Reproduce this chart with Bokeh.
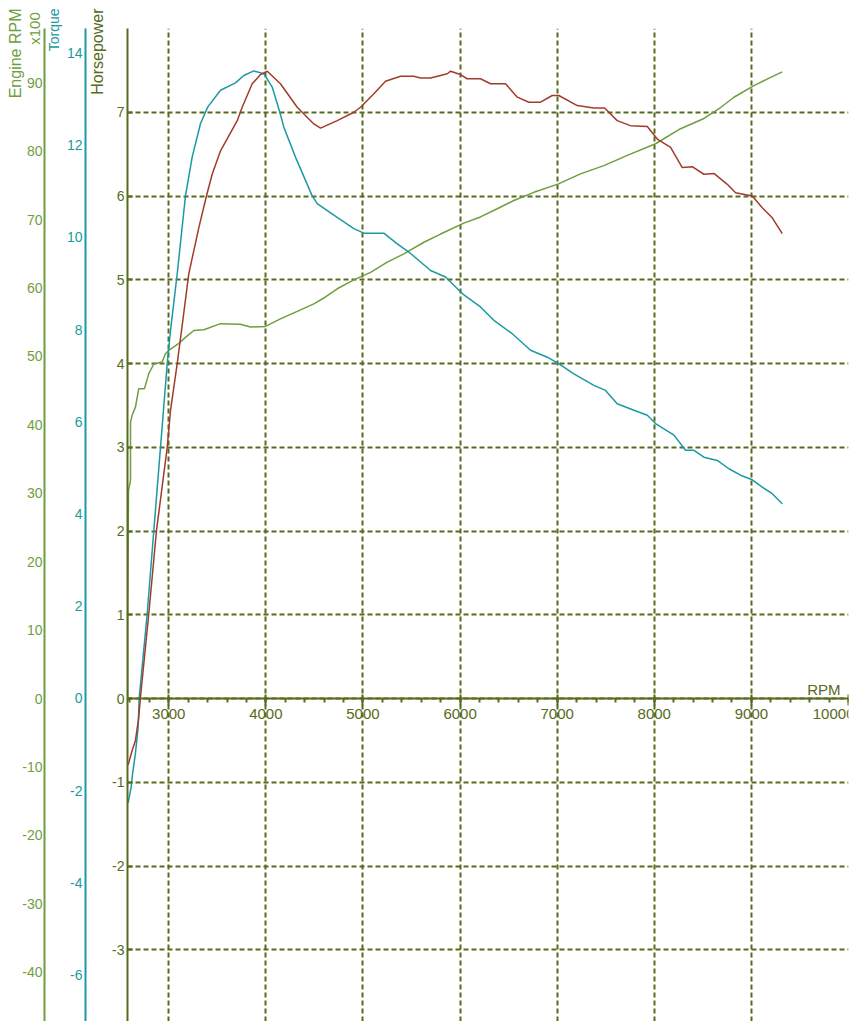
from bokeh.plotting import figure
from bokeh.models import Range1d, LinearAxis, Label, Title, FixedTicker, SingleIntervalTicker
from bokeh.embed import file_html
from bokeh.resources import INLINE

# ---------------- data ----------------
rpm_hp = [2582, 2623, 2657, 2691, 2708, 2794, 2873, 2984, 3018, 3087, 3131, 3206, 3309, 3388, 3447,
          3533, 3705, 3756, 3859, 3945, 4014, 4150, 4323, 4494, 4563, 4735, 4906, 4975, 5112, 5232,
          5387, 5524, 5592, 5696, 5868, 5902, 6004, 6073, 6210, 6313, 6468, 6589, 6708, 6829, 6949,
          7017, 7207, 7378, 7488, 7618, 7754, 7928, 8031, 8168, 8288, 8391, 8511, 8614, 8752, 8837,
          9009, 9112, 9215, 9318]
horsepower = [-0.79, -0.62, -0.50, -0.22, 0.01, 1.01, 2.00, 3.00, 3.44, 4.00, 4.39, 5.07, 5.62, 6.00, 6.26,
              6.54, 6.90, 7.06, 7.34, 7.45, 7.49, 7.34, 7.06, 6.86, 6.81, 6.90, 7.00, 7.06, 7.22, 7.37,
              7.43, 7.43, 7.41, 7.41, 7.46, 7.49, 7.45, 7.40, 7.40, 7.34, 7.34, 7.18, 7.12, 7.12, 7.20,
              7.20, 7.08, 7.05, 7.05, 6.90, 6.84, 6.83, 6.68, 6.58, 6.34, 6.35, 6.26, 6.27, 6.14, 6.04,
              6.00, 5.86, 5.74, 5.55]

rpm_tq = [2582, 2613, 2623, 2657, 2685, 2695, 2778, 2846, 2915, 2984, 3018, 3087, 3172, 3241, 3327,
          3402, 3533, 3687, 3773, 3876, 3979, 4065, 4143, 4185, 4305, 4477, 4529, 4700, 4906, 5009,
          5215, 5353, 5490, 5696, 5850, 6022, 6210, 6348, 6537, 6726, 6898, 7007, 7172, 7378, 7498,
          7618, 7790, 7928, 8013, 8203, 8322, 8408, 8511, 8649, 8768, 8888, 9009, 9112, 9215, 9318]
torque = [-2.27, -1.92, -1.71, -1.19, -0.62, 0.0, 1.84, 3.64, 5.45, 7.26, 7.98, 9.21, 10.90, 11.74, 12.47,
          12.83, 13.19, 13.35, 13.51, 13.61, 13.55, 13.26, 12.72, 12.39, 11.74, 10.90, 10.73, 10.48, 10.19, 10.09,
          10.09, 9.86, 9.65, 9.28, 9.14, 8.78, 8.49, 8.20, 7.91, 7.55, 7.40, 7.27, 7.04, 6.79, 6.68,
          6.39, 6.25, 6.14, 5.96, 5.71, 5.38, 5.38, 5.23, 5.16, 4.98, 4.84, 4.74, 4.58, 4.44, 4.22]

rpm_eng = [2577, 2577, 2585, 2606, 2606, 2623, 2657, 2691, 2750, 2794, 2846, 2932, 2966, 3000, 3103,
           3172, 3258, 3361, 3533, 3738, 3842, 3996, 4150, 4323, 4494, 4614, 4735, 4906, 5078, 5250,
           5421, 5627, 5799, 6039, 6210, 6383, 6554, 6760, 7007, 7240, 7481, 7722, 8013, 8271, 8511,
           8683, 8820, 9026, 9198, 9318]
engine_rpm_x100 = [0, 10.4, 30.4, 31.9, 40.4, 41.4, 42.6, 45.3, 45.3, 47.5, 48.9, 49.2, 50.4, 50.9, 51.9,
                   52.8, 53.8, 53.9, 54.8, 54.7, 54.3, 54.4, 55.5, 56.6, 57.7, 58.7, 59.9, 61.2, 62.3, 63.8,
                   65.0, 66.7, 67.9, 69.5, 70.4, 71.6, 72.8, 74.0, 75.2, 76.7, 77.9, 79.4, 81.1, 83.3, 84.8,
                   86.4, 87.9, 89.6, 90.8, 91.6]

hp_ticks = [-3, -2, -1, 0, 1, 2, 3, 4, 5, 6, 7]
torque_ticks = [-6, -4, -2, 0, 2, 4, 6, 8, 10, 12, 14]
engine_ticks = [-40, -30, -20, -10, 0, 10, 20, 30, 40, 50, 60, 70, 80, 90]

# ---------------- style ----------------
GREEN = "#6f9e3e"
TEAL = "#1b9aa2"
RED = "#a23b2b"
OLIVE = "#566b1c"
FONT = "Liberation Sans"

W, H = 854, 1021
X0, X1 = 2575, 10000
Y0, Y1 = -3.855, 8.0
p = figure(width=W, height=H, output_backend="svg", toolbar_location=None,
           x_range=Range1d(X0, X1), y_range=Range1d(Y0, Y1),
           min_border_left=127, min_border_right=6, min_border_top=28, min_border_bottom=0)
p.outline_line_color = None
p.background_fill_color = "white"
p.border_fill_color = "white"
p.extra_y_ranges = {"torque": Range1d(-7.01, 14.53), "eng": Range1d(-47.22, 97.95)}

def hyphen(ticks):
    return {t: str(t) for t in ticks}

def side_title(text, color, size, standoff, valign="middle"):
    t = Title(text=text, align="right", offset=-20, standoff=standoff, vertical_align=valign,
              text_color=color, text_font=FONT, text_font_size=size, text_font_style="normal")
    p.add_layout(t, "left")

# x axis inside the plot at horsepower = 0
xa = p.xaxis[0]
xa.ticker = SingleIntervalTicker(interval=1000, num_minor_ticks=5)
xa.fixed_location = 0
xa.axis_line_color = OLIVE
xa.axis_line_width = 2
xa.major_tick_line_color = OLIVE
xa.major_tick_line_width = 2
xa.major_tick_in = 4
xa.major_tick_out = 7
xa.minor_tick_line_color = OLIVE
xa.minor_tick_line_width = 2
xa.minor_tick_in = 0
xa.minor_tick_out = 4
xa.major_label_standoff = 3
xa.major_label_text_color = OLIVE
xa.major_label_text_font = FONT
xa.major_label_text_font_size = "15px"

# horsepower axis (closest to plot)
ya = p.yaxis[0]
ya.ticker = FixedTicker(ticks=hp_ticks)
ya.major_label_overrides = hyphen(hp_ticks)
ya.axis_line_color = OLIVE
ya.axis_line_width = 2
ya.major_tick_line_color = OLIVE
ya.major_tick_line_width = 2
ya.major_tick_in = 5
ya.major_tick_out = 0
ya.minor_tick_line_color = None
ya.minor_tick_in = 0
ya.minor_tick_out = 0
ya.major_label_standoff = 3
ya.major_label_text_color = OLIVE
ya.major_label_text_font = FONT
ya.major_label_text_font_size = "14px"
side_title("Horsepower", OLIVE, "16px", 5)

# torque axis
ta = LinearAxis(y_range_name="torque", ticker=FixedTicker(ticks=torque_ticks))
ta.major_label_overrides = hyphen(torque_ticks)
ta.axis_line_color = TEAL
ta.axis_line_width = 2
ta.major_tick_line_color = None
ta.major_tick_in = 0
ta.major_tick_out = 0
ta.minor_tick_line_color = None
ta.minor_tick_in = 0
ta.minor_tick_out = 0
ta.major_label_standoff = 3
ta.major_label_text_color = TEAL
ta.major_label_text_font = FONT
ta.major_label_text_font_size = "14px"
p.add_layout(ta, "left")
side_title("Torque", TEAL, "14px", 1)

# engine rpm axis
ea = LinearAxis(y_range_name="eng", ticker=FixedTicker(ticks=engine_ticks))
ea.major_label_overrides = hyphen(engine_ticks)
ea.axis_line_color = GREEN
ea.axis_line_width = 2
ea.major_tick_line_color = None
ea.major_tick_in = 0
ea.major_tick_out = 0
ea.minor_tick_line_color = None
ea.minor_tick_in = 0
ea.minor_tick_out = 0
ea.major_label_standoff = 2
ea.major_label_text_color = GREEN
ea.major_label_text_font = FONT
ea.major_label_text_font_size = "14px"
ea.axis_label = "x100"
ea.axis_label_text_color = GREEN
ea.axis_label_text_font = FONT
ea.axis_label_text_font_size = "15px"
ea.axis_label_text_font_style = "normal"
ea.axis_label_standoff = -24
if "axis_label_align" in ea.properties():
    ea.axis_label_align = "end"
p.add_layout(ea, "left")
side_title("Engine RPM", GREEN, "16px", 0, "bottom")

# grid
for g in (p.xgrid[0], p.ygrid[0]):
    g.grid_line_color = OLIVE
    g.grid_line_width = 2
    g.grid_line_dash = "5 3"

# curves
p.line(rpm_eng, engine_rpm_x100, y_range_name="eng", line_color=GREEN, line_width=1.5)
p.line(rpm_tq, torque, y_range_name="torque", line_color=TEAL, line_width=1.5)
p.line(rpm_hp, horsepower, line_color=RED, line_width=1.5)

p.add_layout(Label(x=X1, y=0, x_offset=-8, y_offset=1, text="RPM", text_align="right",
                   text_baseline="bottom", text_color=OLIVE, text_font=FONT, text_font_size="15px"))

open("out.html", "w").write(file_html(p, INLINE))
